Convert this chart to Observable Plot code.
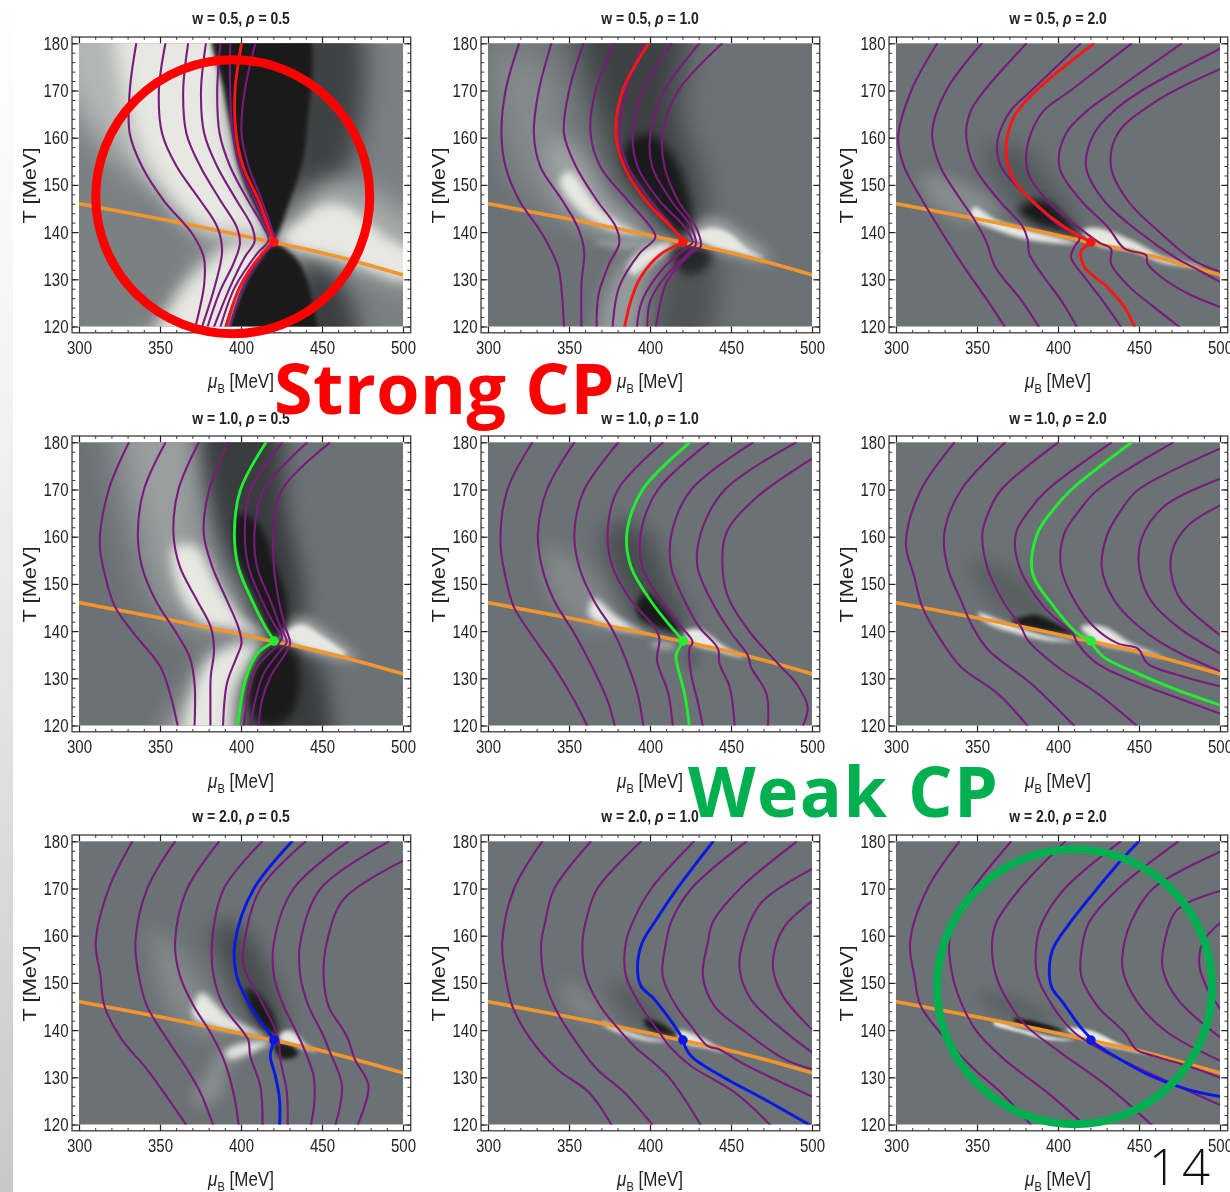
<!DOCTYPE html>
<html><head><meta charset="utf-8">
<script src="https://cdn.jsdelivr.net/npm/d3@7"></script>
<script src="https://cdn.jsdelivr.net/npm/@observablehq/plot@0.6"></script>
<style>
html,body{margin:0;padding:0;background:#fff;overflow:hidden}
#page{position:relative;width:1230px;height:1192px;overflow:hidden;background:#fff}
#strip{position:absolute;left:0;top:0;width:13px;height:1192px;background:linear-gradient(to bottom,#fff 0%,#f2f2f2 35%,#dcdcdc 70%,#c8c8c8 100%)}
.p{position:absolute}
.t,.xl{position:absolute;width:324px;text-align:center;font-family:"Liberation Sans",sans-serif;color:#222;white-space:nowrap}
.t{font-weight:700;font-size:17px;line-height:18px;transform:scaleX(.82)}
.xl{font-size:20px;line-height:22px;transform:scaleX(.85)}
.xl sub{font-size:13px;line-height:0}
.big{position:absolute;white-space:nowrap;font-family:"Open Sans",sans-serif;font-weight:700}
</style></head><body><div id="page"><div id="strip"></div></div>
<script>
const xTicks=[300,350,400,450,500];
const yTicks=[120,130,140,150,160,170,180];
const xMinor=d3.range(300,501,10);
const yMinor=d3.range(120,181,2);
const transition=[[300,146.1],[350,142.9],[400,139.4],[420,137.9],[450,135.7],[500,131]];
const critical=[[420,138]];

// w = 0.5, rho = 0.5
const lines11=[
[[335,180],[331,170],[331,161],[338.6,154],[352,146.8],[369.5,139.8],[376.7,134.8],[377,129.2],[371.5,120]],
[[353,180],[349,170],[351,161],[360,154],[374.6,146.8],[385,141.2],[388,136.2],[384,129.2],[375.6,120]],
[[367,180],[364,170],[366,161],[374.6,154],[387,146.8],[397,141.2],[399,137.7],[395,133.4],[387,127.8],[379,120]],
[[378,180],[375,170],[377,161],[385,154],[397,146.8],[406.5,141.2],[408,138],[402,134.8],[393,128.5],[383,120]],
[[387,180],[385,170],[386.5,161],[393,154],[404,146.8],[413.6,141.2],[416.7,138.4],[409.5,135.5],[396,128.5],[387,120]],
[[393,180],[393,170],[394.6,161],[399,154],[408.5,146.8],[415.7,141.2],[419,138.4],[412.6,135.5],[399,128.5],[390,120]],
[[408.5,180],[402,170],[400,161],[404.4,154],[412.6,146.8],[419,140.5],[421,138.2],[413.7,135.5],[401,128.5],[393,120]]];
const crit11=[[[400,180],[396,170],[396.6,161],[401,154],[410.6,146.8],[416.7,141.2],[420,138]],[[420,138],[412.6,135.5],[399,128.5],[390.6,120]]];
const shades11=[
[-0.55,12,[[432,185],[470,185],[472,160],[454,148],[432,142],[428,160]]],
[-0.6,12,[[440,115],[472,115],[464,128],[445,137],[436,128]]],
[0.55,14,[[290,190],[345,190],[342,160],[352,150],[325,155],[290,172]]],
[0.95,10,[[325,190],[384,190],[392,165],[403,150],[419,138.6],[398,139],[376,140],[354,147],[338,156],[328,168]]],
[0.45,12,[[318,110],[350,110],[375,134],[392,138],[376,128]]],
[0.95,8,[[342,110],[396,110],[416,137],[392,137.5],[380,134],[360,127]]],
[0.45,12,[[426,139],[446,150],[472,150],[510,140],[510,129],[470,132]]],
[0.95,6,[[424,138.6],[438,143],[452,146],[468,145],[485,140],[510,134],[505,130],[460,134.5],[430,137]]],
[-1,2,[[383,185],[438,185],[440,161],[437,154],[430,146.8],[424,141],[420,138.6],[406,146.8],[398,154],[394,161],[389,170]]],
[-1,2,[[420,137.6],[433,134.8],[440,130.6],[443.5,125.7],[445.5,115],[392,115],[400,128],[410,134]]]];

// w = 0.5, rho = 1
const lines12=[
[[318.8,180],[310.5,170],[308,161],[310.5,154],[319,146.8],[333,139.8],[343,132.7],[345.6,125.7],[346.6,120]],
[[338.8,180],[331,170],[328,161],[332,154],[345.6,146.8],[355,141.2],[359,136.2],[357.4,129.2],[357.4,120]],
[[358.6,180],[349.7,170],[346.6,161],[354,154],[367,146.8],[378.6,141.2],[380.7,137.7],[374.5,133.4],[368,127],[366.7,120]],
[[377.6,180],[366,170],[363,161],[369,154],[386,146.8],[400,141.2],[403,139],[393,135.5],[380.7,128.5],[376.6,120]],
[[395,180],[385,170],[381,161],[386,154],[400,146.8],[414,141],[419,138.4]],
[[413,180],[395,170],[389,161],[392,154],[405.5,146.8],[421,141.2],[426,138],[423,137],[408.6,132.7],[395,125.7],[391.6,120]],
[[430,180],[408.6,170],[400,161],[401,154],[412.7,146.8],[425,141.2],[428,137.5],[426,136.5],[410.6,131.3],[400,125.7],[398,120]],
[[444,180],[417,170],[407.5,161],[408.6,154],[417,146.8],[428,141.2],[431,137],[427,136.2],[410.6,129.9],[405.5,124.2],[403.4,120]]];
const crit12=[[[398.7,180],[382.8,170],[378.6,161],[383.8,154],[397,146.8],[412.7,141.2],[420,138.4]],[[420,137.8],[406.5,135.5],[394,130.6],[388,125.7],[384,120]]];
const shades12=[
[0.2,18,[[300,180],[340,175],[350,160],[365,150],[350,143],[325,148],[305,165]]],
[-0.55,14,[[358,190],[420,190],[418,165],[432,150],[430,140],[415,140],[395,145],[375,158]]],
[-0.35,12,[[405,115],[432,115],[442,130],[440,136],[415,136]]],
[0.4,10,[[338,160],[352,158],[375,147],[400,140],[380,139],[355,142],[340,150]]],
[0.95,3.5,[[344,151],[350,153],[369,145],[392,140],[413,138.4],[402,138.7],[373.5,141],[355,145]]],
[0.35,3,[[365,138],[385,138.5],[405,137.8],[385,136.5]]],
[0.32,9,[[368,115],[388,115],[400,132],[416,137.5],[395,137],[376,130]]],
[0.95,3,[[415,138],[400,137],[392,135.5],[386,132],[390,131],[398,133],[408,135.5]]],
[0.45,7,[[423,140],[440,143],[455,140],[475,134],[455,135],[432,137.5]]],
[0.95,2,[[425,139],[437,141],[448,140],[460,136.5],[470,134.5],[450,136],[433,137.5]]],
[-1,5,[[384,158],[398,161],[412,157],[423,148],[425,142],[420,139.5],[408,143],[395,149],[384,154]]],
[-0.85,5,[[413,136],[420,131.5],[430,131.5],[438,135],[430,137]]]];

// w = 0.5, rho = 2
const lines13=[
[[325,180],[309,170],[301,160],[304.7,154],[316,146.8],[328.4,139.8],[341.8,132.7],[356,125.7],[367,120]],
[[352.5,180],[330.5,170],[322,161],[327,154],[340,146.8],[347,143.3],[355,138.4],[361,132.7],[377,125.7],[388,120]],
[[380,180],[354,170],[346,165.9],[343,161],[348,154],[363.4,146.8],[378,141.2],[381,138.4],[382,135.5],[391,130.6],[401.5,125.7],[411.4,120]],
[[413.5,180],[383,170],[370.6,165.9],[363.4,161],[362,158],[364.5,154],[383,146.8],[401.5,141.2],[413,138.8],[410,137.1],[407.7,134.8],[416,130.6],[427,125.7],[438.6,120]],
[[444.8,180],[407,170],[391,165.9],[383,161],[380,156],[382,152],[393,146.8],[412,141.2],[426,137.7],[432.4,136.6],[432.4,133.4],[443.8,128.5],[459,124.2],[474.6,120]],
[[475.7,180],[434.5,170],[418,165.9],[404.6,161],[400.5,154],[413.9,146.8],[430.4,141.2],[440.7,136.6],[454,135.2],[455,133.4],[463.4,130.6],[479.8,127.1],[500,124.2]],
[[500,179],[451,170],[434.5,165.9],[422,161],[417,154],[428,146.8],[451,139.8],[473.6,134.4],[483,132.7],[500,129.5]],
[[500,174.7],[461,168],[436.6,161],[432.4,154],[442.7,146.8],[463.3,139.8],[484,134],[500,131.7]]];
const crit13=[[[421.5,180],[386,170],[372.3,164.4],[367.6,157.3],[372.7,151],[386,146],[403.6,141.2],[420,138]],[[420,137.6],[414,136.2],[416,132.7],[430,128.5],[440.7,124.2],[447,120]]];
const shades13=[
[0.2,7,[[315,152],[345,150],[365,145],[345,142],[325,145]]],
[-0.3,12,[[355,158],[378,158],[397,150],[413,142],[398,141],[380,143],[364,150]]],
[0.95,2,[[348,145.4],[362,142.6],[383,140.5],[412,137.7],[383,138.4],[362,140.5],[346,143.3]]],
[0.95,2,[[415,140.5],[424,141],[445,138.4],[465.5,134.8],[490,132.7],[465,133.5],[445,136.2],[424,137.3]]],
[-1,4,[[375,145],[390,147],[405,143],[413,139.5],[400,140.5],[385,142]]]];

// w = 1, rho = 0.5
const lines21=[
[[330.4,180],[318,170],[312.5,158.7],[316,151.6],[322,145.2],[333.5,139.6],[350,132.5],[357,125.4],[360.6,120]],
[[353,180],[339.7,170],[336,160.8],[338.6,153.7],[347,146.6],[360,139.6],[368,134.6],[371,129],[371,120]],
[[373.6,180],[361,170],[358,160.8],[362,153.7],[372.6,146.6],[381,141],[383,136],[381,130.4],[380.8,125],[380.8,120]],
[[391.7,180],[380,170],[376.7,160.8],[382,153.7],[391,146.6],[398,141],[400,137.5],[397,134.6],[391,129],[388.6,120]],
[[425,180],[405.5,170],[402,160.8],[404.4,153.7],[412.6,146.6],[421,141],[425,138.9],[422,137.1],[409.6,132.5],[404.4,126.9],[401.3,120]],
[[440.4,180],[413.7,170],[408,160.8],[409.6,153.7],[417.8,146.6],[424,141],[428,137.8],[425,136.4],[413.7,131.1],[408.5,125.4],[405.5,120]],
[[454.4,180],[425,170],[419.8,160.8],[420,153.7],[423,146.6],[427,141],[430,137.5],[427,135.3],[417.8,130.4],[412.6,125.4],[410.6,120]]];
const crit21=[[[415,180],[399.3,170],[395.6,160.8],[398,153.7],[406.5,146.6],[414.7,141],[420,138.2]],[[420,137.8],[409.6,135.3],[402.4,129.7],[397.6,120]]];
const shades21=[
[0.36,18,[[325,190],[372,190],[380,160],[405,143],[380,140],[355,143],[335,160]]],
[0.45,12,[[345,110],[392,110],[412,136],[385,136],[364,126]]],
[-0.6,10,[[378,190],[417,190],[428,165],[438,150],[436,140],[420,138.5],[400,150],[385,162]]],
[-0.6,10,[[403,110],[450,110],[448,133],[432,137],[410,135]]],
[0.95,6,[[358,158],[372,158],[385,150],[400,143],[415,139],[395,140.5],[375,142],[362,148]]],
[0.95,7,[[395,137],[410,137.5],[395,128],[388,112],[364,112],[371,128],[380,134]]],
[0.45,6,[[423,140],[438,143],[452,140],[472,134],[450,135],[432,137.5]]],
[0.95,2,[[425,139],[437,141.5],[450,139],[465,135],[450,135.7],[432,137.5]]],
[-1,3,[[398,165],[410,163],[420,155],[427,148],[427,141],[420,139],[412,145],[402,152],[396,158]]],
[-1,4,[[404,125],[410,134],[420,137],[432,136],[436,130],[430,122],[415,120]]]];

// w = 1, rho = 1
const lines22=[
[[327,180],[311.6,170],[307.4,158.7],[310.5,151.6],[315.7,145.2],[326,139.6],[340.5,132.5],[353,125.4],[361,120]],
[[352.8,180],[336,170],[330.5,160.8],[333,153.7],[340.5,146.6],[353,139.6],[364,132.5],[373.5,125.4],[378,120]],
[[380,180],[359,170],[353,160.8],[356,153.7],[365,146.6],[375.5,141],[379.7,138.2],[385,133.9],[392,126.9],[395.6,120]],
[[407.5,180],[379.7,170],[373.5,160.8],[376.6,153.7],[388,146.6],[402.4,141],[405.5,138.5],[404,133.9],[411,126.9],[413.7,120]],
[[435.8,180],[404.4,170],[394,160.8],[395,153.7],[406.5,146.6],[419,141],[426,137.8],[424,136.4],[425,131.1],[429,125.4],[432.3,120]],
[[463,180],[425,170],[413,160.8],[412.7,153.7],[421,146.6],[430,141],[441.6,136.4],[442.6,133.2],[448.8,128.3],[452,120]],
[[489.5,180],[445.7,170],[431,160.8],[429,153.7],[437.5,146.6],[450,139.6],[460,135],[462,132.5],[471.5,126.9],[472.5,120]],
[[500,176.7],[464,168],[446.7,160.8],[444.7,152.3],[448.8,146.6],[462,139.6],[478.7,133.2],[490,129],[497,124],[494,120]]];
const crit22=[[[424,180],[395,170],[385.4,160.8],[388,153.7],[400,146.6],[412.7,141],[420,138.2]],[[420,137.8],[415.8,135],[416.8,132.5],[421,126.9],[424,120]]];
const shades22=[
[0.18,10,[[335,158],[355,155],[380,142],[360,141],[340,147]]],
[-0.42,11,[[372,162],[395,162],[412,150],[424,141],[410,140],[392,143],[380,150]]],
[0.4,3,[[400,137.7],[415,137.6],[415,136.4],[402,136.6]]],
[0.95,3,[[365,147],[380,143],[398,139.5],[410,138.4],[395,139.5],[375,141],[362,143.5]]],
[0.95,2,[[421,140],[430,140.5],[445,137],[458,134.5],[440,136],[425,137.5]]],
[-0.2,4,[[421,136],[428,136],[430,133],[423,132]]],
[-1,3,[[392,146.6],[398,148],[410,144],[419,140],[412,140],[400,141.5],[393,143]]]];

// w = 1, rho = 2
const lines23=[
[[335.6,180],[315,170],[305.8,158.7],[311,151.6],[316,145.2],[327.4,138.2],[339.8,132.5],[362.4,126.9],[381,120]],
[[367,180],[339.8,170],[329.5,160.8],[331.5,153.7],[339.8,146.6],[347,141],[357,136],[383,129],[409.8,120]],
[[399.5,180],[364.5,170],[357.3,165.7],[353,160.8],[356,153.7],[365.5,146.6],[376.8,141],[381,138.2],[399.5,132.5],[424,126.9],[448.5,120]],
[[432.4,180],[393,170],[382,165.7],[373.7,160.8],[375.8,153.7],[391,145.2],[408.7,139.6],[411.8,137.5],[424,133.2],[455,128.3],[477.8,125.4],[500,122.6]],
[[470.5,180],[424,170],[412.9,165.7],[403.6,160.8],[401.5,153.7],[409.8,146.6],[422,141],[436.6,137.5],[449,136.4],[455,133.2],[477.8,130.4],[500,128.4]],
[[500,178.8],[449,170],[438.6,165.7],[430.4,160.8],[426.7,153.7],[434.5,146.6],[455,139.6],[475.7,135.3],[500,131.6]],
[[500,172.4],[465.4,166.6],[451,159.4],[450,153],[457,146.6],[473.6,141],[500,135.3]],
[[500,166.8],[479.8,162.4],[470.5,157.4],[469.5,152.4],[475.7,146.6],[500,139.2]]];
const crit23=[[[444.8,180],[407.7,170],[396.4,165.7],[387,160.8],[384,152.4],[397.4,145.2],[411.8,139.6],[420,138.2]],[[420,137.8],[428,134.6],[449,131.1],[473.6,127.6],[500,124.4]]];
const shades23=[
[-0.22,10,[[345,155],[375,152],[395,145],[400,140],[380,141],[360,146]]],
[0.95,2,[[350,144],[370,141.6],[390,139.3],[410,138],[395,138],[375,139.5],[355,142]]],
[0.95,2,[[414,141],[428,141],[445,137.5],[465,134.5],[445,136],[425,137.5]]],
[-1,2,[[371,142],[385,143.5],[400,141.5],[410,139.5],[395,140],[380,141]]]];

// w = 2, rho = 0.5
const lines31=[
[[332.5,180],[318,170],[310,158.7],[313,151.6],[315.4,145.2],[326,138.2],[341.7,131.8],[352,126.9],[366,120]],
[[358.8,180],[341.7,170],[334.5,158.7],[336.6,151.6],[341.7,145.2],[354,138.2],[366.4,131.8],[374.6,126.9],[382.5,120]],
[[386,180],[366.4,170],[359,158.7],[362,151.6],[370.5,145.2],[380.8,139.6],[389,133.9],[395,126.9],[398.3,120]],
[[412.6,180],[389,170],[381.8,158.7],[382.8,151.6],[389,145.2],[401.3,139.6],[404.4,137.8],[405.4,134.6],[411.6,128.3],[413,120]],
[[439.4,180],[411.6,170],[401.7,158.7],[401.3,153.7],[411.6,146.6],[419.8,141],[423,137.8],[424,133.9],[428,126.9],[428.5,120]],
[[465.5,180],[432,170],[420,158.7],[420,151.6],[426,145.2],[432,141],[438.3,136.4],[444.5,130.4],[445,125],[442.9,120]],
[[490.7,180],[448.6,170],[436.3,158.7],[436.3,151.6],[441.4,145.2],[449.6,139.6],[454.8,135.3],[462,128.3],[458,120]],
[[500,176],[463,167.8],[452.7,158.7],[450.7,151.6],[453.7,145.2],[465,138.8],[470,133.9],[478.4,128.3],[471.6,120]]];
const crit31=[[[431,180],[407.5,170],[396,158.7],[397,151.6],[405.4,145.2],[413.7,141],[420,138.2]],[[420,137.8],[417.8,134.6],[420.9,130.4],[423.5,125.4],[423.5,120]]];
const shades31=[
[0.2,11,[[345,162],[365,155],[385,145],[395,140],[375,139],[355,145]]],
[0.22,7,[[370,125],[385,125],[392,132],[405,137],[388,136],[378,131]]],
[-0.42,10,[[382,162],[400,162],[420,150],[427,140],[415,139],[398,147]]],
[0.95,3,[[375,148],[392,143],[415,138.6],[400,139.5],[382,141],[370,143]]],
[0.9,3,[[418,137.6],[402,137.5],[390,135.5],[392,134],[404,135]]],
[0.95,2,[[423,139],[430,140],[440,137],[447,135.5],[435,136.5],[425,137.5]]],
[-1,2,[[420,137],[425,134],[435,135],[430,137]]],
[-1,3,[[403,149],[412,147],[421,142],[422,139],[415,140],[405,145]]]];

// w = 2, rho = 1
const lines32=[
[[333,180],[315.7,170],[308.5,158.7],[310.5,151.6],[314.7,145.2],[326,138.2],[342.5,131.8],[362,126.9],[376,120]],
[[363,180],[340.5,170],[335,163],[332.6,158.7],[334,151.6],[340.5,145.2],[352.8,138.2],[367,131.8],[383.8,126.9],[401.3,120]],
[[394,180],[367,170],[360,163],[358,158.7],[360,151.6],[369,145.2],[378.6,141],[390,136.7],[410.6,130.4],[431,120]],
[[426.7,180],[400.3,170],[389,163],[384.8,158.7],[384.8,151.6],[394,145.2],[405.5,139.6],[411.7,136.7],[425,132.5],[452,126.9],[474,120]],
[[459,180],[425,170],[412.7,163],[409.6,158.7],[407.5,151.6],[415.8,145.2],[425,141],[435.4,136.7],[442.6,136],[456,133.2],[476.7,129.7],[500,126]],
[[490,180],[455,170],[438.5,163],[435.4,158.7],[432.3,151.6],[439.5,145.2],[459,139.6],[483,133.9],[500,131.8]],
[[500,174.3],[468.4,167.1],[457,158.7],[455,153],[462,146.6],[478.7,141],[500,135.3]],
[[500,167.5],[483,162.2],[476.7,157.2],[475.7,153],[481.8,147.3],[500,140.1]]];
const crit32=[[[438.5,180],[427,174.9],[414.8,169.3],[402.4,162.9],[395,158.7],[392,153.7],[394,149.5],[402.4,146.6],[414.8,141],[420,138.2]],[[420,137.8],[425,134.6],[443.7,130.4],[470.5,125.4],[498.3,120]]];
const shades32=[
[0.15,8,[[345,150],[360,148],[375,142],[355,143]]],
[-0.25,9,[[375,150],[395,148],[412,141],[396,140.5],[382,144]]],
[0.95,2,[[370,142],[385,140],[400,138.5],[412,138],[400,137.7],[385,139],[372,141]]],
[0.95,2,[[417,140],[425,139.5],[440,136.8],[447,135.5],[432,136.5],[420,137.5]]],
[-1,2,[[396,142.4],[405,141.8],[416,139],[405,139.5],[397,141]]]];

// w = 2, rho = 2
const lines33=[
[[338.7,180],[319,170],[308.4,158.7],[311,151.6],[315,145.2],[330.5,138.2],[348,131.8],[364.5,126.9],[383,120]],
[[370.6,180],[347,170],[335,163],[332.5,158.7],[334.6,151.6],[340.8,145.2],[350,139.6],[366.5,133.9],[393,126.9],[416,120]],
[[404,180],[376,170],[361.8,163],[359,158.7],[361.4,151.6],[370.6,145.2],[380,141],[401.5,135.3],[430,128.3],[457.6,120]],
[[438,180],[403.6,170],[390,163],[386.5,158.7],[387,151.6],[396.4,145.2],[409.8,139.6],[426,136],[451,131.8],[477.8,127.6],[500,124.2]],
[[473.6,180],[436.6,170],[419,163],[415,158.7],[414,151.6],[424,145.2],[440.7,139.6],[448,136],[459,134.6],[480,132.5],[500,130]],
[[500,177.9],[458,170],[444.8,163],[440.7,158.7],[439.6,153],[449,145.9],[467.4,139.6],[500,133.6]],
[[500,169.6],[473.6,165.7],[465.4,158.7],[464.4,153],[473.6,146.6],[500,138.5]],
[[500,162.9],[489,158.7],[487,153.7],[491,149.5],[500,144.5]]];
const crit33=[[[449.3,180],[436.6,175.3],[422,169.3],[405.7,162.2],[396.4,157.2],[394.3,152.3],[396,149],[402.6,146],[413,141],[420,138.3]],[[420,137.8],[434.5,134.6],[457,130.4],[480,127.5],[500,126]]];
const shades33=[
[-0.18,7,[[350,148],[375,147],[400,142],[380,141.5],[360,144]]],
[0.95,1.5,[[360,142],[375,140.5],[395,138.7],[410,138],[395,138],[375,139.7],[360,141.3]]],
[0.95,1.5,[[405,140.5],[420,140],[440,136.8],[458,134.8],[440,136],[420,137.5],[410,139]]],
[-1,1.5,[[372,142.5],[385,142],[403,140],[392,140.2],[375,141.5]]]];

const tone=d3.scaleLinear().domain([-1,0,1]).range(["#1a1a1a","#6b7275","#eeeee8"]);
const panels=[
{w:"0.5",rho:"0.5",col:0,row:0,base:0.12,lines:lines11,crit:crit11,shades:shades11,hue:"#ff1414"},
{w:"0.5",rho:"1.0",col:1,row:0,base:0,lines:lines12,crit:crit12,shades:shades12,hue:"#ff1414"},
{w:"0.5",rho:"2.0",col:2,row:0,base:0,lines:lines13,crit:crit13,shades:shades13,hue:"#ff1414"},
{w:"1.0",rho:"0.5",col:0,row:1,base:0,lines:lines21,crit:crit21,shades:shades21,hue:"#22ee30"},
{w:"1.0",rho:"1.0",col:1,row:1,base:0,lines:lines22,crit:crit22,shades:shades22,hue:"#22ee30"},
{w:"1.0",rho:"2.0",col:2,row:1,base:0,lines:lines23,crit:crit23,shades:shades23,hue:"#22ee30"},
{w:"2.0",rho:"0.5",col:0,row:2,base:0,lines:lines31,crit:crit31,shades:shades31,hue:"#0a18e6"},
{w:"2.0",rho:"1.0",col:1,row:2,base:0,lines:lines32,crit:crit32,shades:shades32,hue:"#0a18e6"},
{w:"2.0",rho:"2.0",col:2,row:2,base:0,lines:lines33,crit:crit33,shades:shades33,hue:"#0a18e6"}];
const ringRed={at:[[394.6,147.6]],color:"#ff0000",r:137,sw:9};
const ringGreen={at:[[409.9,149.3]],color:"#00b050",r:137.5,sw:8};

const colX=[79,488,895.7], rowY=[43.3,442.7,841.3];
const sans='"Liberation Sans",sans-serif';
const page=document.getElementById("page");
const blurred=(b)=>(i,s,v,d,c,next)=>{const g=next(i,s,v,d,c);g.style.filter=`blur(${b}px)`;return g;};
const [fx1,fx2,fy1,fy2]=[295.7,504.75,118.67,181.33];

panels.forEach(p=>{
  const left=colX[p.col], top=rowY[p.row];
  const ring=p.col===0&&p.row===0?ringRed:p.col===2&&p.row===2?ringGreen:null;
  const purple=p.lines.map(l=>Plot.line(l,{stroke:"#7a1a7c",strokeWidth:2.1,curve:"catmull-rom",clip:true}));
  const crit=p.crit.map(l=>Plot.line(l,{stroke:p.hue,strokeWidth:2.9,curve:"catmull-rom",clip:true}));
  const shade=p.shades.map(([t,b,pts])=>Plot.line(pts,{fill:tone(t),stroke:"none",curve:"catmull-rom-closed",clip:true,render:blurred(b)}));
  const svg=Plot.plot({
    width:410,height:388,marginLeft:79,marginRight:7,marginTop:43.3,marginBottom:61.5,
    style:{overflow:"visible",background:"transparent",fontFamily:sans},
    x:{domain:[300,500]},y:{domain:[120,180]},
    marks:[
      Plot.rect([0],{x1:300,x2:500,y1:120,y2:180,fill:tone(p.base)}),
      ...shade,
      Plot.line(transition,{stroke:"#f2952c",strokeWidth:3.6,curve:"monotone-x",clip:true}),
      ...purple,...crit,
      Plot.dot(critical,{r:4.8,fill:p.hue,stroke:"none"}),
      Plot.rect([0],{x1:fx1,x2:fx2,y1:fy1,y2:fy2,fill:"none",stroke:"#4a4a4a",strokeWidth:1.4}),
      Plot.ruleX(xMinor,{y1:fy1,y2:fy1+0.6,stroke:"#333",strokeWidth:1}),
      Plot.ruleX(xMinor,{y1:fy2,y2:fy2-0.6,stroke:"#333",strokeWidth:1}),
      Plot.ruleX(xTicks,{y1:fy1,y2:fy1+1.3,stroke:"#222",strokeWidth:1.2}),
      Plot.ruleX(xTicks,{y1:fy2,y2:fy2-1.3,stroke:"#222",strokeWidth:1.2}),
      Plot.ruleY(yMinor,{x1:fx1,x2:fx1+2,stroke:"#333",strokeWidth:1}),
      Plot.ruleY(yMinor,{x1:fx2,x2:fx2-2,stroke:"#333",strokeWidth:1}),
      Plot.ruleY(yTicks,{x1:fx1,x2:fx1+4,stroke:"#222",strokeWidth:1.2}),
      Plot.ruleY(yTicks,{x1:fx2,x2:fx2-4,stroke:"#222",strokeWidth:1.2}),
      Plot.axisX(xTicks,{tickSize:0,tickPadding:13,fontSize:19,label:null,fill:"#222",tickFormat:d=>String(d)}),
      Plot.axisY(yTicks,{tickSize:0,tickPadding:11,fontSize:19,label:"T [MeV]",labelAnchor:"center",labelArrow:"none",labelOffset:57,fill:"#222",tickFormat:d=>String(d)}),
      ...(ring?[Plot.dot(ring.at,{r:ring.r,stroke:ring.color,strokeWidth:ring.sw,fill:"none"})]:[])
    ]
  });
  svg.classList.add("p");
  svg.style.left=(left-79)+"px";
  svg.style.top=(top-43.3)+"px";
  svg.style.filter="blur(0.45px)";
  page.appendChild(svg);
  svg.querySelectorAll('[aria-label="x-axis tick label"] text,[aria-label="y-axis tick label"] text').forEach(e=>{
    e.setAttribute("textLength","25");e.setAttribute("lengthAdjust","spacingAndGlyphs");
  });
  svg.querySelectorAll('[aria-label="y-axis label"] text').forEach(e=>{
    e.setAttribute("textLength","76");e.setAttribute("lengthAdjust","spacingAndGlyphs");
  });
  const t=document.createElement("div");
  t.className="t";t.style.left=left+"px";t.style.top=(top-33)+"px";
  t.innerHTML=`w = ${p.w}, <i>ρ</i> = ${p.rho}`;
  page.appendChild(t);
  const xl=document.createElement("div");
  xl.className="xl";xl.style.left=left+"px";xl.style.top=(top+327)+"px";
  xl.innerHTML=`<i>μ</i><sub>B</sub> [MeV]`;
  page.appendChild(xl);
});
[["Strong CP",274,339,"#ff0000",70,"0.5px",700],["Weak CP",688,742,"#00b050",70,"1.4px",700],["14",1149,1133,"#111",49,"5px",300]].forEach(([s,x,y,c,fs,ls,wt])=>{
  const d=document.createElement("div");d.className="big";d.textContent=s;
  d.style.cssText=`left:${x}px;top:${y}px;color:${c};font-size:${fs}px;letter-spacing:${ls};font-weight:${wt}`;
  page.appendChild(d);
});
</script></body></html>
